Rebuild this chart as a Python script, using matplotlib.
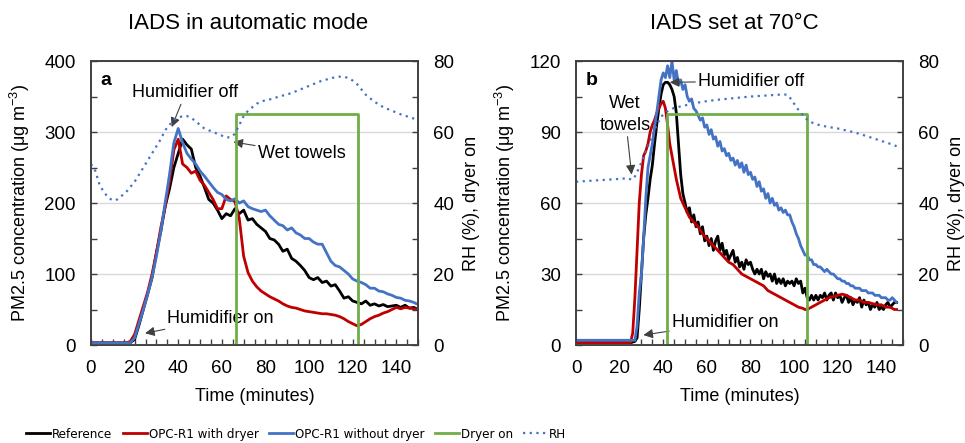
import numpy as np
import matplotlib
matplotlib.use("Agg")
import matplotlib.pyplot as plt
from matplotlib import font_manager
from matplotlib.ticker import MultipleLocator

plt.rcParams['font.family'] = ['Liberation Sans', 'DejaVu Sans']
plt.rcParams['mathtext.fontset'] = 'custom'
plt.rcParams['mathtext.rm'] = 'Liberation Sans'

# ---- panel a : IADS in automatic mode ----
t_a = list(range(0, 152, 2))
ref_a = [3, 3, 3, 3, 3, 3, 3, 3, 3, 3, 8, 28, 50, 72, 95, 130, 160, 195, 220, 250,
         270, 290, 282, 276, 250, 238, 222, 205, 200, 190, 178, 185, 182, 192, 185, 190,
         176, 178, 170, 165, 160, 150, 148, 142, 132, 135, 122, 118, 112, 105, 95, 92,
         95, 88, 90, 83, 85, 76, 66, 68, 62, 60, 58, 62, 56, 58, 55, 57, 54, 55,
         56, 53, 56, 52, 53, 50]
dry_a = [3, 3, 3, 3, 3, 3, 3, 3, 3, 5, 15, 35, 55, 75, 100, 130, 165, 195, 230, 275,
         290, 255, 250, 242, 245, 232, 225, 215, 205, 192, 192, 210, 205, 202, 178, 125,
         102, 90, 82, 76, 72, 68, 65, 62, 58, 55, 53, 52, 50, 48, 47, 46,
         45, 44, 44, 43, 42, 40, 37, 33, 30, 27, 29, 33, 37, 40, 42, 45, 47, 50,
         53, 51, 53, 52, 51, 50]
nodry_a = [3, 3, 3, 3, 3, 3, 3, 3, 3, 3, 10, 30, 50, 72, 95, 125, 160, 200, 240, 285,
           305, 285, 270, 262, 255, 245, 238, 230, 222, 215, 212, 205, 203, 206, 200, 203,
           195, 192, 190, 188, 190, 182, 176, 170, 168, 162, 165, 158, 155, 150, 150, 145,
           142, 142, 130, 118, 112, 110, 105, 100, 93, 90, 88, 85, 80, 80, 76, 75, 72, 70,
           67, 66, 63, 62, 60, 57]
rh_a = [51, 49, 45, 43, 41.5, 40.7, 41, 42, 43, 44.5, 46, 48, 50, 52, 54, 56, 58, 60.5, 62, 63.5,
        64, 64.5, 64.5, 64, 63, 62, 61, 60.5, 60, 59.5, 59, 58.5, 58.5, 59.5, 62, 64.5,
        66, 67, 68, 68.5, 69, 69.2, 69.5, 70, 70.3, 70.6, 71, 71.5, 72, 72.5, 73, 73.5,
        74, 74.5, 74.8, 75.2, 75.4, 75.6, 75.6, 75.2, 74.5, 73.5, 72, 70.5, 69.5, 68.5,
        67.8, 67, 66.5, 66, 65.5, 65, 64.6, 64.2, 63.8, 63.5]
dryer_t_a = [0, 66.4, 66.4, 122.3, 122.3, 150]
dryer_v_a = [0, 0, 65, 65, 0, 0]

# ---- panel b : IADS set at 70 C ----
t_b_ref = [0, 5, 10, 15, 20, 25, 27] + list(range(28, 148))
ref_b = [1, 1, 1, 1, 1, 1, 1.5,
         3, 15, 30, 45, 55, 62, 70, 76, 85, 93, 100, 106, 110, 111, 111, 110, 108, 105, 98, 85,
         72, 64, 60, 56, 58, 52, 55, 50, 52, 47, 50, 44, 46, 42, 45, 40, 44, 46, 40, 43,
         38, 40, 36, 38, 40, 35, 37, 33, 35, 32, 36, 34, 35, 32, 30, 32, 30, 32, 28, 31,
         29, 30, 27, 30, 26, 28, 26, 28, 25, 27, 26, 27, 25, 28, 26, 27, 22, 24, 20, 19,
         21, 19, 21, 19, 21, 20, 22, 19, 21, 22, 19, 22, 20, 21, 18, 20, 21, 18, 20, 17,
         19, 18, 20, 16, 19, 17, 18, 15, 17, 16, 18, 15, 16, 15, 17, 18, 16, 17, 18, 18]
t_b_dry = [0, 25, 26, 27, 28, 29, 30, 31, 32, 33, 34, 35, 36, 37, 38, 39, 40, 41, 42, 43,
           44, 45, 46, 47, 48, 50, 52, 54, 56, 58, 60, 62, 64, 66, 68, 70, 72, 74, 76, 78,
           80, 82, 84, 86, 88, 90, 92, 94, 96, 98, 100, 102, 104, 105, 106, 108, 110, 112,
           114, 116, 118, 120, 122, 124, 126, 128, 130, 132, 134, 136, 138, 140, 142, 144,
           146, 147]
dry_b = [1, 1, 5, 20, 40, 60, 72, 80, 82, 85, 90, 93, 95, 98, 100, 102, 103, 100, 93, 85,
         80, 75, 70, 66, 62, 58, 54, 52, 50, 47, 45, 43, 41, 39, 37, 35, 34, 32, 30, 29,
         28, 27, 26, 25, 23, 22, 21, 20, 19, 18, 17, 16, 15.5, 15, 15, 16, 17, 18,
         19, 20, 20.5, 21, 21.5, 21, 20, 19, 19, 18, 18, 17.5, 17, 17, 16, 16,
         15, 15]
t_b_nodry = [0, 25, 27] + list(range(28, 148))
nodry_b = [2, 2, 2,
           8, 22, 30, 45, 62, 75, 80, 85, 92, 98, 105, 112, 115, 113, 118, 113, 120, 112,
           116, 110, 112, 108, 110, 105, 103, 104, 100, 99, 97, 95, 96, 92, 93, 89, 91, 87,
           88, 84, 86, 82, 83, 80, 81, 78, 79, 76, 78, 75, 77, 73, 76, 72, 73, 70, 71, 67,
           69, 65, 66, 62, 64, 60, 62, 59, 60, 57, 58, 56, 57, 55, 55, 52, 50, 47, 45, 42,
           40, 38, 38, 36, 36, 34, 34, 33, 33, 32, 31, 32, 31, 30, 30, 29, 28, 28, 27, 27,
           26, 26, 25, 25, 24, 24, 24, 23, 23, 23, 22, 22, 22, 21, 21, 21, 20, 20, 20, 19,
           19, 20, 19, 18]
t_b_rh = [0, 5, 10, 15, 20, 24, 25.5, 27, 29, 31, 33, 35, 37, 39, 41, 43, 45, 50, 55, 60,
          65, 70, 75, 80, 85, 90, 95, 97, 99, 101, 103, 105, 107, 110, 115, 120, 125, 130,
          135, 140, 145, 147]
rh_b = [46, 46.2, 46.4, 46.6, 46.8, 47, 46.5, 47.5, 50, 53, 56, 59, 62, 64.3, 65.5, 66.3,
        66.8, 67.5, 68.2, 68.7, 69.1, 69.4, 69.7, 70, 70.2, 70.4, 70.6, 70.5, 69, 67, 65.5,
        64, 63, 62.2, 61.5, 61, 60.3, 59.5, 58.5, 57.5, 56.5, 56]
dryer_t_b = [0, 41.9, 41.9, 105.8, 105.8, 147]
dryer_v_b = [0, 0, 65, 65, 0, 0]

c_ref = 'black'
c_dry = '#C00000'
c_nodry = '#4472C4'
c_green = '#70AD47'
c_rh = '#4472C4'
spine_c = '#404040'

# legend text is a narrow font in the original; use one if installed
narrow = None
for f in font_manager.fontManager.ttflist:
    fn = f.fname.lower()
    if ('narrow' in fn or 'condensed' in fn) and 'bold' not in fn and 'oblique' not in fn \
            and 'italic' not in fn and 'mono' not in fn and 'serif' not in fn:
        narrow = f.fname
        break
if narrow:
    leg_prop = font_manager.FontProperties(fname=narrow, size=9.5)
    colsp = 0.8
else:
    leg_prop = font_manager.FontProperties(family='Liberation Sans', size=8.5)
    colsp = 0.9

fig = plt.figure(figsize=(9.65, 4.43), dpi=100)
ax_a = fig.add_axes([0.0943, 0.2212, 0.339, 0.641])
ax_b = fig.add_axes([0.5969, 0.2212, 0.339, 0.641])


def style(ax, ax2, ymax, ystep):
    ax.set_xlim(0, 150)
    ax.set_ylim(0, ymax)
    ax2.set_ylim(0, 80)
    ax.xaxis.set_major_locator(MultipleLocator(20))
    ax.xaxis.set_minor_locator(MultipleLocator(5))
    ax.yaxis.set_major_locator(MultipleLocator(ystep))
    ax.yaxis.set_minor_locator(MultipleLocator(ystep / 2))
    ax2.yaxis.set_major_locator(MultipleLocator(20))
    ax2.yaxis.set_minor_locator(MultipleLocator(10))
    for a in (ax, ax2):
        a.tick_params(which='both', direction='in', length=4, width=1, color=spine_c,
                      labelsize=13.5, pad=11)
        for s in a.spines.values():
            s.set_color(spine_c)
            s.set_linewidth(1.2)
    ax.tick_params(axis='x', which='both', top=False)
    ax.grid(axis='y', which='major', color='#d9d9d9', lw=1)
    ax.set_axisbelow(True)
    ax.set_xlabel('Time (minutes)', fontsize=13, labelpad=8)
    ax.set_ylabel(r'PM2.5 concentration (μg m$^{\mathregular{-3}}$)', fontsize=13, labelpad=9)
    ax2.set_ylabel('RH (%), dryer on', fontsize=13, labelpad=6)


arrow = dict(arrowstyle='-|>', color='#404040', lw=0.8, mutation_scale=14,
             shrinkA=0, shrinkB=0)

# panel a
ax_a2 = ax_a.twinx()
style(ax_a, ax_a2, 400, 100)
l1, = ax_a.plot(t_a, ref_a, color=c_ref, lw=2, label='Reference')
l2, = ax_a.plot(t_a, dry_a, color=c_dry, lw=2, label='OPC-R1 with dryer')
l3, = ax_a.plot(t_a, nodry_a, color=c_nodry, lw=2, label='OPC-R1 without dryer')
l4, = ax_a2.plot(dryer_t_a, dryer_v_a, color=c_green, lw=2, label='Dryer on')
l5, = ax_a2.plot(t_a, rh_a, color=c_rh, lw=1.6, ls=(0, (1, 2)), label='RH')
ax_a.set_title('IADS in automatic mode', fontsize=16, pad=23, x=0.48)
ax_a.text(0.03, 0.96, 'a', transform=ax_a.transAxes, fontsize=14, fontweight='bold',
          va='top', ha='left')
ax_a.annotate('Humidifier off', xy=(37, 307), xytext=(19, 355), fontsize=13,
              arrowprops=arrow, va='center', ha='left')
ax_a.annotate('Wet towels', xy=(65.3, 286), xytext=(76.5, 270), fontsize=13,
              arrowprops=arrow, va='center', ha='left')
ax_a.annotate('Humidifier on', xy=(24.8, 16.5), xytext=(35, 38), fontsize=13,
              arrowprops=arrow, va='center', ha='left')

# panel b
ax_b2 = ax_b.twinx()
style(ax_b, ax_b2, 120, 30)
ax_b.plot(t_b_ref, ref_b, color=c_ref, lw=2)
ax_b.plot(t_b_dry, dry_b, color=c_dry, lw=2)
ax_b.plot(t_b_nodry, nodry_b, color=c_nodry, lw=2)
ax_b2.plot(dryer_t_b, dryer_v_b, color=c_green, lw=2)
ax_b2.plot(t_b_rh, rh_b, color=c_rh, lw=1.6, ls=(0, (1, 2)))
ax_b.set_title('IADS set at 70°C', fontsize=16, pad=23, x=0.485)
ax_b.text(0.03, 0.96, 'b', transform=ax_b.transAxes, fontsize=14, fontweight='bold',
          va='top', ha='left')
ax_b.annotate('Humidifier off', xy=(43, 111), xytext=(56, 111.5), fontsize=13,
              arrowprops=arrow, va='center', ha='left')
ax_b.annotate('Wet\ntowels', xy=(25.5, 72), xytext=(22.5, 97.5), fontsize=13,
              arrowprops=arrow, va='center', ha='center', linespacing=1.4)
ax_b.annotate('Humidifier on', xy=(30.9, 4.2), xytext=(44, 9.5), fontsize=13,
              arrowprops=arrow, va='center', ha='left')

fig.legend(handles=[l1, l2, l3, l4, l5], loc='lower left', bbox_to_anchor=(0.015, -0.022),
           ncol=5, frameon=False, handlelength=1.8, handletextpad=0.15,
           columnspacing=colsp, prop=leg_prop)

fig.savefig('out.png', dpi=100)
